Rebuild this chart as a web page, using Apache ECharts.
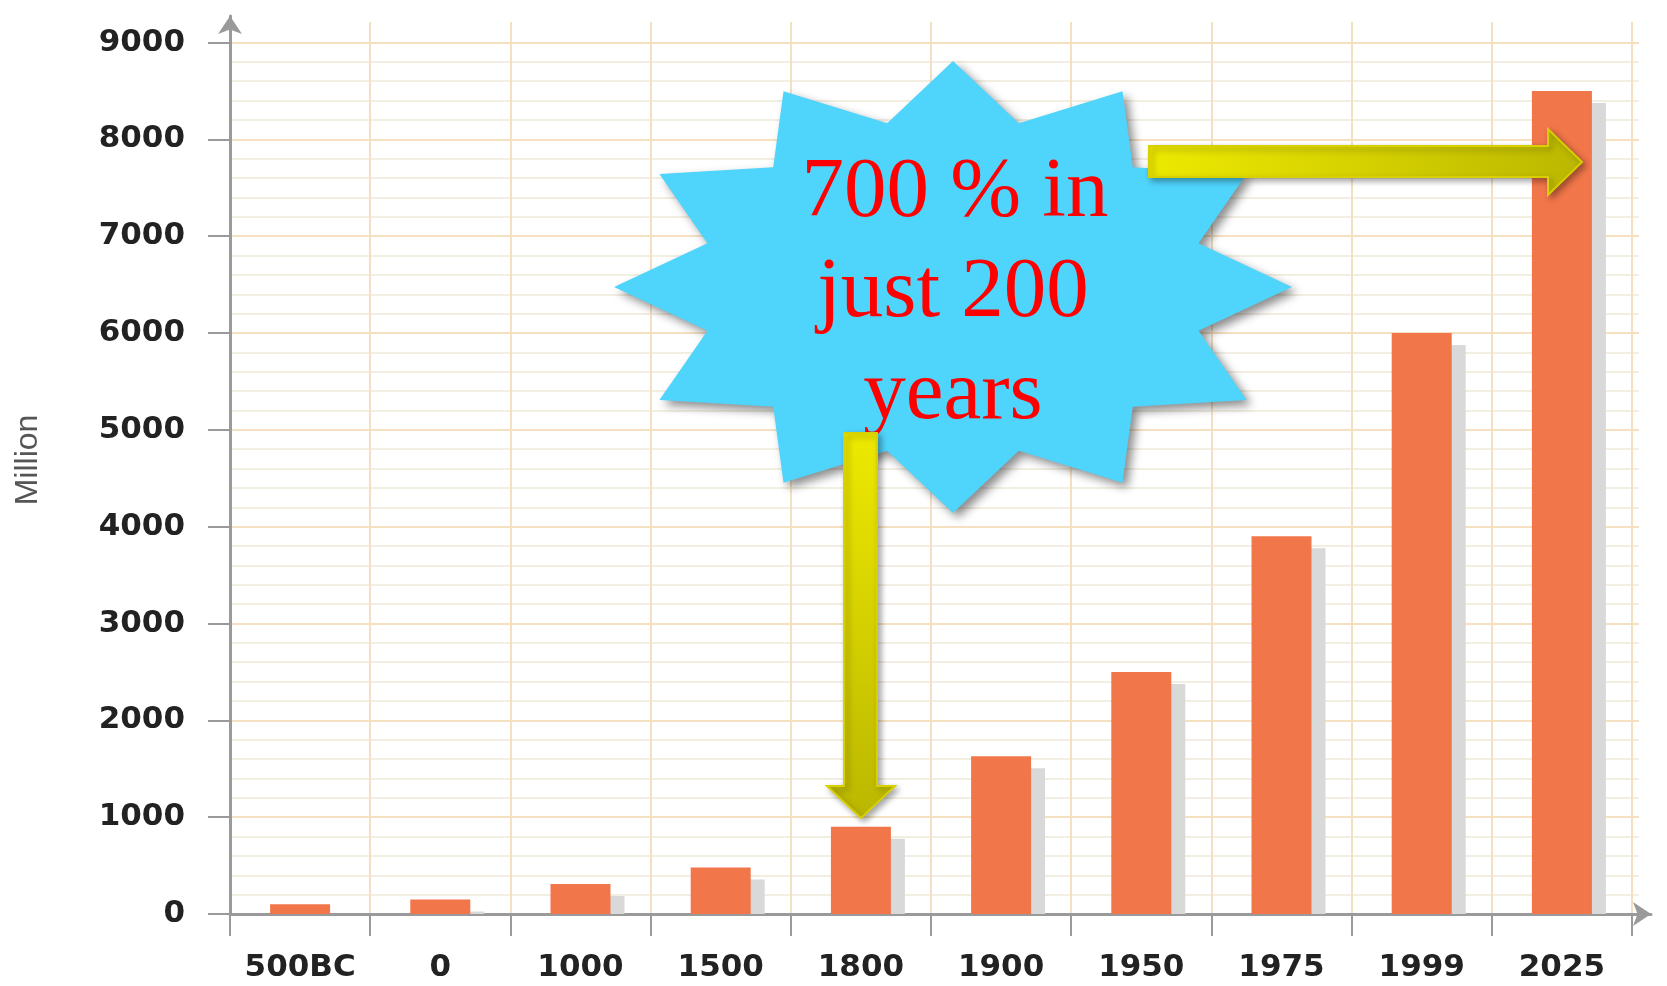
<!DOCTYPE html>
<html>
<head>
<meta charset="utf-8">
<script src="https://cdn.jsdelivr.net/npm/echarts@6/dist/echarts.min.js"></script>
<style>
  html, body { margin: 0; padding: 0; background: #fff; }
  #chart { width: 1667px; height: 986px; }
</style>
</head>
<body>
<div id="chart"></div>
<script>
// data
const years = ['500BC', '0', '1000', '1500', '1800', '1900', '1950', '1975', '1999', '2025'];
const population = [100, 150, 310, 480, 900, 1630, 2500, 3900, 6000, 8500];
const yMin = 0;
const yMax = 9000;
const yStep = 1000;
const yName = 'Million';
const callout = ['700 % in', 'just 200', 'years'];

const chart = echarts.init(document.getElementById('chart'), null, { renderer: 'canvas' });

const labelFont = {
  fontFamily: 'DejaVu Sans',
  fontWeight: 'bold',
  fontSize: 31,
  color: '#222'
};
const axisGray = '#9a9a9a';

// 12 point star, squashed to an ellipse
function starPoints(cx, cy, rx, ry, n, k) {
  const pts = [];
  for (let i = 0; i < 2 * n; i++) {
    const a = i * Math.PI / n;
    const f = i % 2 ? k : 1;
    pts.push([cx + Math.sin(a) * rx * f, cy - Math.cos(a) * ry * f]);
  }
  return pts;
}

function arrowFill(x2, y2) {
  return {
    type: 'linear', x: 0, y: 0, x2: x2, y2: y2,
    colorStops: [
      { offset: 0, color: '#eee900' },
      { offset: 1, color: '#bbb700' }
    ]
  };
}

const arrowStyle = {
  stroke: '#d8d000',
  lineWidth: 2,
  shadowBlur: 6,
  shadowOffsetX: 3,
  shadowOffsetY: 3,
  shadowColor: 'rgba(0,0,0,0.35)'
};

chart.setOption({
  animation: false,
  grid: [
    { left: 230, right: 35, top: 42.5, bottom: 72 },   // bars + ticks
    { left: 230, right: 28, top: 42.5, bottom: 72 },   // horizontal lines
    { left: 230, right: 35, top: 22, bottom: 72 },     // vertical lines
    { left: 230, right: 16, top: 16, bottom: 72 }      // axis lines w/ arrows
  ],
  xAxis: [
    {
      type: 'category', gridIndex: 0, data: years,
      axisLine: { show: false },
      axisTick: { show: true, interval: 0, length: 22, lineStyle: { color: axisGray, width: 2 } },
      axisLabel: Object.assign({ interval: 0, margin: 38 }, labelFont),
      splitLine: { show: false }
    },
    { type: 'value', gridIndex: 1, show: false },
    {
      type: 'category', gridIndex: 2, data: years,
      axisLine: { show: false }, axisTick: { show: false }, axisLabel: { show: false },
      splitLine: { show: true, interval: 0, lineStyle: { color: '#f4e0c0', width: 2 } }
    },
    {
      type: 'value', gridIndex: 3, min: 0, max: 1,
      axisLine: { show: true, symbol: ['none', 'arrow'], symbolSize: [18, 18], lineStyle: { color: axisGray, width: 3 } },
      axisTick: { show: false }, axisLabel: { show: false }, splitLine: { show: false }
    }
  ],
  yAxis: [
    {
      type: 'value', gridIndex: 0, min: yMin, max: yMax, interval: yStep,
      axisLine: { show: false },
      axisTick: { show: true, length: 22, lineStyle: { color: axisGray, width: 2 } },
      axisLabel: Object.assign({ margin: 45, formatter: v => String(v) }, labelFont),
      splitLine: { show: false }
    },
    {
      type: 'value', gridIndex: 1, min: yMin, max: yMax, interval: yStep,
      axisLine: { show: false }, axisTick: { show: false }, axisLabel: { show: false },
      splitLine: { show: true, lineStyle: { color: '#f5e1c2', width: 2 } },
      minorTick: { show: false, splitNumber: 5 },
      minorSplitLine: { show: true, lineStyle: { color: '#f2eee2', width: 2 } }
    },
    { type: 'value', gridIndex: 2, show: false },
    {
      type: 'value', gridIndex: 3, min: 0, max: 1,
      axisLine: { show: true, symbol: ['none', 'arrow'], symbolSize: [18, 18], lineStyle: { color: axisGray, width: 3 } },
      axisTick: { show: false }, axisLabel: { show: false }, splitLine: { show: false }
    }
  ],
  series: [
    {
      // grey drop shadow behind each bar
      type: 'custom',
      xAxisIndex: 0, yAxisIndex: 0,
      z: 1,
      data: population.map((v, i) => [i, v]),
      renderItem: function (params, api) {
        const top = api.coord([api.value(0), api.value(1)]);
        const base = api.coord([api.value(0), 0]);
        const h = base[1] - top[1] - 12;
        if (h <= 0) return null;
        return {
          type: 'rect',
          shape: { x: top[0] - 30 + 14, y: top[1] + 12, width: 60, height: h },
          style: { fill: '#d9d9d9' }
        };
      }
    },
    {
      type: 'bar',
      xAxisIndex: 0, yAxisIndex: 0,
      z: 2,
      barWidth: 60,
      data: population,
      itemStyle: { color: '#f1764a' }
    }
  ],
  graphic: [
    {
      type: 'text', x: 28, y: 460, rotation: Math.PI / 2,
      style: {
        text: yName, align: 'center', verticalAlign: 'middle',
        font: '32px "Liberation Sans"', fill: '#555'
      }
    },
    {
      type: 'polygon', z: 100,
      shape: { points: starPoints(953, 287, 339, 226, 12, 0.75) },
      style: {
        fill: '#4fd4fc',
        shadowBlur: 10, shadowOffsetX: 5, shadowOffsetY: 5,
        shadowColor: 'rgba(0,0,0,0.45)'
      }
    },
    {
      type: 'text', z: 101, x: 955, y: 194,
      style: { text: callout[0], align: 'center', verticalAlign: 'middle', font: '85px "Liberation Serif"', fill: '#ff0000' }
    },
    {
      type: 'text', z: 101, x: 953, y: 294,
      style: { text: callout[1], align: 'center', verticalAlign: 'middle', font: '85px "Liberation Serif"', fill: '#ff0000' }
    },
    {
      type: 'text', z: 101, x: 953, y: 396,
      style: { text: callout[2], align: 'center', verticalAlign: 'middle', font: '85px "Liberation Serif"', fill: '#ff0000' }
    },
    {
      type: 'polygon', z: 102,
      shape: { points: [[1149, 146], [1548, 146], [1548, 129], [1582, 162], [1548, 195], [1548, 177], [1149, 177]] },
      style: Object.assign({ fill: arrowFill(1, 0) }, arrowStyle)
    },
    {
      type: 'polygon', z: 102,
      shape: { points: [[844, 433], [877, 433], [877, 786], [895, 786], [861, 818], [827, 786], [844, 786]] },
      style: Object.assign({ fill: arrowFill(0, 1) }, arrowStyle)
    }
  ]
});
</script>
</body>
</html>
